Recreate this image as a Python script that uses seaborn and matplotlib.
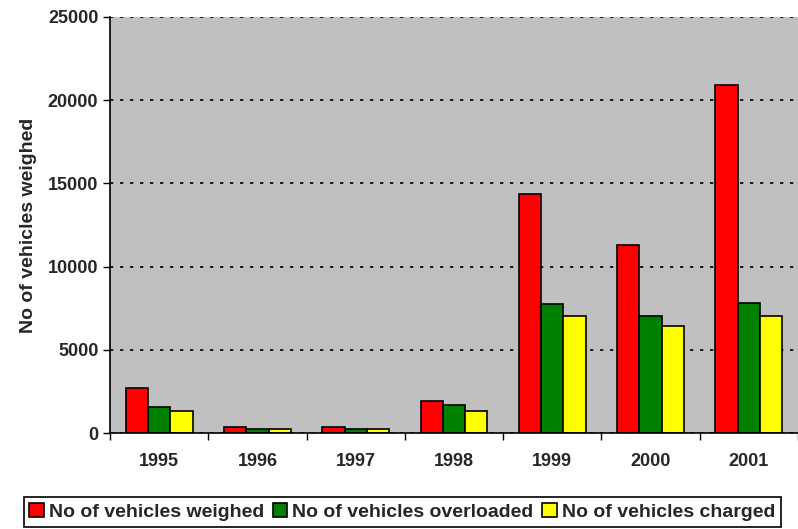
import matplotlib
matplotlib.use("Agg")
import matplotlib.pyplot as plt
import pandas as pd
import seaborn as sns
from matplotlib.ticker import FixedLocator

years = ["1995", "1996", "1997", "1998", "1999", "2000", "2001"]
weighed = [2700, 360, 360, 1920, 14360, 11280, 20900]
overloaded = [1560, 240, 240, 1680, 7740, 7050, 7830]
charged = [1320, 240, 240, 1320, 7050, 6450, 7050]
series_names = ["No of vehicles weighed", "No of vehicles overloaded", "No of vehicles charged"]
colors = ["#FF0000", "#008000", "#FFFF00"]

rows = []
for name, vals in zip(series_names, [weighed, overloaded, charged]):
    for y, v in zip(years, vals):
        rows.append({"year": y, "series": name, "value": v})
df = pd.DataFrame(rows)

sns.set_style("white")
plt.rcParams["font.family"] = ["Liberation Sans", "DejaVu Sans"]
plt.rcParams["font.weight"] = "bold"

fig = plt.figure(figsize=(7.98, 5.29), dpi=100)
ax = fig.add_axes([0.138, 0.181, 0.862, 0.787])
ax.set_facecolor("#C0C0C0")

sns.barplot(data=df, x="year", y="value", hue="series", palette=colors,
            width=0.68, edgecolor="black", linewidth=1.2, saturation=1, ax=ax)

ax.set_ylim(0, 25000)
ax.set_xlim(-0.5, len(years) - 0.5)
ax.set_yticks(range(0, 25001, 5000))
ax.yaxis.grid(True, linestyle=(0, (2, 4)), color="black", linewidth=1.2)
ax.set_axisbelow(True)

ax.tick_params(axis="x", which="major", length=0, pad=14, labelsize=13)
ax.xaxis.set_minor_locator(FixedLocator([i - 0.5 for i in range(len(years) + 1)]))
ax.tick_params(axis="x", which="minor", length=5, width=1, color="black", direction="out", bottom=True)
ax.tick_params(axis="y", length=5, width=1, color="black", direction="out", left=True, labelsize=13)
for lbl in ax.get_xticklabels() + ax.get_yticklabels():
    lbl.set_fontweight("bold")

ax.set_xlabel("")
ax.set_ylabel("No of vehicles weighed", fontsize=14, fontweight="bold", labelpad=8)

for side in ["top", "right"]:
    ax.spines[side].set_visible(False)
for side in ["left", "bottom"]:
    ax.spines[side].set_color("black")
    ax.spines[side].set_linewidth(1.2)

handles, labels = ax.get_legend_handles_labels()
ax.get_legend().remove()
leg = fig.legend(handles, labels, loc="center", bbox_to_anchor=(0.504, 0.032), ncol=3,
                 frameon=True, fancybox=False, edgecolor="black", framealpha=1,
                 handlelength=0.75, handleheight=0.75, handletextpad=0.25, columnspacing=0.45,
                 borderpad=0.3, prop={"weight": "bold", "size": 14})
leg.get_frame().set_linewidth(1.2)

fig.savefig("out.png", dpi=100)
